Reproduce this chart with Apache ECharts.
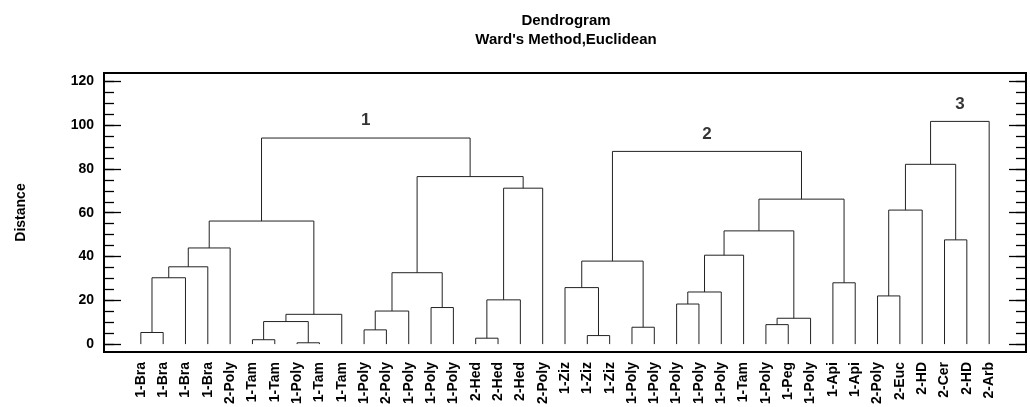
<!DOCTYPE html>
<html>
<head>
<meta charset="utf-8">
<script src="https://cdn.jsdelivr.net/npm/echarts@6/dist/echarts.min.js"></script>
<style>
html,body{margin:0;padding:0;background:#fff;}
#chart{width:1030px;height:407px;}
</style>
</head>
<body>
<div id="chart"></div>
<script>
// Leaf labels, left to right
const leafNames = ['1-Bra','1-Bra','1-Bra','1-Bra','2-Poly','1-Tam','1-Tam','1-Poly','1-Tam','1-Tam',
  '1-Poly','2-Poly','1-Poly','1-Poly','1-Poly','2-Hed','2-Hed','2-Hed','2-Poly',
  '1-Ziz','1-Ziz','1-Ziz','1-Poly','1-Poly','1-Poly','1-Poly','1-Poly','1-Tam','1-Poly','1-Peg','1-Poly',
  '1-Api','1-Api','2-Poly','2-Euc','2-HD','2-Cer','2-HD','2-Arb'];
// Linkage: [childA, childB, distance]; leaves are 0..38, merges numbered from 39 on
const merges = [
  [0,1,5.3],[39,2,30.3],[40,3,35.3],[41,4,43.9],
  [5,6,2.0],[7,8,0.6],[43,44,10.3],[45,9,13.6],
  [42,46,56.2],
  [10,11,6.5],[48,12,15.1],[13,14,16.7],[49,50,32.6],
  [15,16,2.7],[52,17,20.2],[53,18,71.2],
  [51,54,76.5],[47,55,94.1],
  [20,21,3.9],[19,57,25.8],[22,23,7.7],[58,59,37.9],
  [24,25,18.3],[61,26,23.8],[62,27,40.6],
  [28,29,8.9],[64,30,11.8],[63,65,51.7],
  [31,32,28.0],[66,67,66.2],[60,68,88.0],
  [33,34,22.0],[70,35,61.2],[36,37,47.6],[71,72,82.1],[73,38,101.7]
];
const clusterNames = ['1','2','3'];
const clusterRoots = [56,69,74];
const yMajorTicks = [0,20,40,60,80,100,120];
const yMinorTicks = [0,5,10,15,20,25,30,35,40,45,50,55,60,65,70,75,80,85,90,95,100,105,110,115,120];

const nodeX = leafNames.map((_, i) => i);
const nodeH = leafNames.map(() => 0);
merges.forEach(([a, b, h]) => { nodeX.push((nodeX[a] + nodeX[b]) / 2); nodeH.push(h); });
const segData = merges.map(([a, b, h]) => [nodeX[a], nodeH[a], nodeX[b], nodeH[b], h]);
const clusterData = clusterRoots.map((r, i) => ({ value: [nodeX[r], nodeH[r]], name: clusterNames[i] }));

const FONT = "'Liberation Sans', Arial, Helvetica, sans-serif";
const leafIdx = leafNames.map((_, i) => i);

function yAx(pos, labels, ticks, len) {
  return {
    type: 'value', position: pos, min: -3.6, max: 123.8,
    axisLine: { show: false, onZero: false },
    splitLine: { show: false },
    axisTick: { show: true, inside: true, length: len, customValues: ticks, lineStyle: { color: '#000', width: 1.3 } },
    axisLabel: labels ? { show: true, customValues: yMajorTicks, margin: 10, color: '#000', fontWeight: 'bold', fontSize: 14, fontFamily: FONT } : { show: false },
    name: labels ? 'Distance' : '',
    nameLocation: 'middle', nameRotate: 90, nameGap: 76,
    nameTextStyle: { color: '#000', fontWeight: 'bold', fontSize: 14, fontFamily: FONT }
  };
}

const chart = echarts.init(document.getElementById('chart'), null, { renderer: 'canvas' });
chart.setOption({
  animation: false,
  backgroundColor: '#fff',
  graphic: [
    { type: 'text', x: 566, y: 21, style: { text: 'Dendrogram', textAlign: 'center', textVerticalAlign: 'middle', font: "bold 15px " + FONT, fill: '#000' } },
    { type: 'text', x: 566, y: 40, style: { text: "Ward's Method,Euclidean", textAlign: 'center', textVerticalAlign: 'middle', font: "bold 15px " + FONT, fill: '#000' } }
  ],
  grid: { left: 104, right: 4, top: 73, bottom: 53, show: true, borderColor: '#000', borderWidth: 2, backgroundColor: 'transparent' },
  xAxis: {
    type: 'value', min: -1.65, max: 39.65, position: 'bottom',
    axisLine: { show: false, onZero: false }, axisTick: { show: false }, splitLine: { show: false },
    axisLabel: { show: true, customValues: leafIdx, formatter: v => leafNames[Math.round(v)], rotate: 90, margin: 10,
      color: '#000', fontWeight: 'bold', fontSize: 14, fontFamily: FONT }
  },
  yAxis: [
    yAx('left', true, yMajorTicks, 17),
    yAx('left', false, yMinorTicks, 10),
    yAx('right', false, yMajorTicks, 17),
    yAx('right', false, yMinorTicks, 10)
  ],
  series: [
    {
      type: 'custom', yAxisIndex: 0,
      data: segData,
      encode: { x: [0, 2], y: [1, 3, 4] },
      renderItem: function (params, api) {
        const a0 = api.coord([api.value(0), api.value(1)]);
        const a1 = api.coord([api.value(0), api.value(4)]);
        const b1 = api.coord([api.value(2), api.value(4)]);
        const b0 = api.coord([api.value(2), api.value(3)]);
        return { type: 'polyline', shape: { points: [a0, a1, b1, b0] }, style: { stroke: '#222', lineWidth: 1, fill: null } };
      }
    },
    {
      type: 'scatter', yAxisIndex: 0, symbolSize: 0,
      data: clusterData,
      label: { show: true, position: 'top', distance: 9, formatter: p => p.name, color: '#000', fontWeight: 'bold', fontSize: 17, fontFamily: FONT }
    }
  ]
});
</script>
</body>
</html>
